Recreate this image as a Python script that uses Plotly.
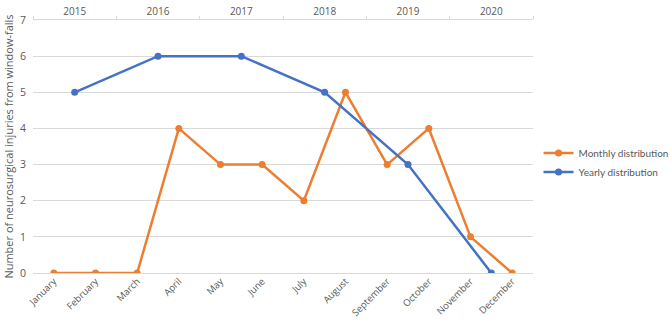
import plotly.graph_objects as go

months = ["January", "February", "March", "April", "May", "June", "July",
          "August", "September", "October", "November", "December"]
monthly = [0, 0, 0, 4, 3, 3, 2, 5, 3, 4, 1, 0]
years = ["2015", "2016", "2017", "2018", "2019", "2020"]
yearly = [5, 6, 6, 5, 3, 0]

ORANGE = "#ED7D31"
BLUE = "#4472C4"
GRID = "#D9D9D9"
TXT = "#595959"
FONT = "Open Sans"

fig = go.Figure()
fig.add_trace(go.Scatter(x=months, y=monthly, name="Monthly distribution",
                         mode="lines+markers", xaxis="x", yaxis="y",
                         line=dict(color=ORANGE, width=2.5),
                         marker=dict(size=7, color=ORANGE)))
fig.add_trace(go.Scatter(x=years, y=yearly, name="Yearly distribution",
                         mode="lines+markers", xaxis="x2", yaxis="y",
                         line=dict(color=BLUE, width=2.5),
                         marker=dict(size=7, color=BLUE)))

fig.update_layout(
    width=669, height=326,
    margin=dict(l=33, r=136, t=20, b=53, autoexpand=False),
    paper_bgcolor="white", plot_bgcolor="white",
    font=dict(family=FONT, size=10, color=TXT),
    xaxis=dict(type="category", categoryorder="array", categoryarray=months,
               range=[-0.5, 11.5], tickangle=-45, showgrid=False,
               showline=False, ticks="", automargin=False,
               tickfont=dict(size=9.5, color=TXT)),
    xaxis2=dict(type="category", categoryorder="array", categoryarray=years,
                range=[-0.5, 5.5], overlaying="x", side="top",
                showgrid=False, showline=True, linecolor=GRID, linewidth=1,
                ticks="outside", tickson="boundaries", ticklen=3, tickcolor=GRID,
                ticklabelstandoff=0,
                automargin=False, tickfont=dict(size=10, color=TXT)),
    yaxis=dict(range=[0, 7], dtick=1, showgrid=True, gridcolor=GRID,
               gridwidth=1, zeroline=True, zerolinecolor=GRID, zerolinewidth=1,
               ticks="", automargin=False, ticklabelstandoff=6,
               tickfont=dict(size=10.5, color=TXT),
               title=dict(text="Number of neurosurgical injuries from window-falls",
                          font=dict(size=11, color=TXT), standoff=4)),
    legend=dict(xref="container", x=0.805, xanchor="left",
                yref="container", y=0.575, yanchor="top",
                font=dict(family="Lato", size=10, color=TXT),
                bgcolor="rgba(0,0,0,0)", borderwidth=0,
                itemwidth=30, tracegroupgap=0),
    showlegend=True,
)

fig.write_html("out.html", config={"displayModeBar": False},
               post_script="document.body.style.margin='0';")
